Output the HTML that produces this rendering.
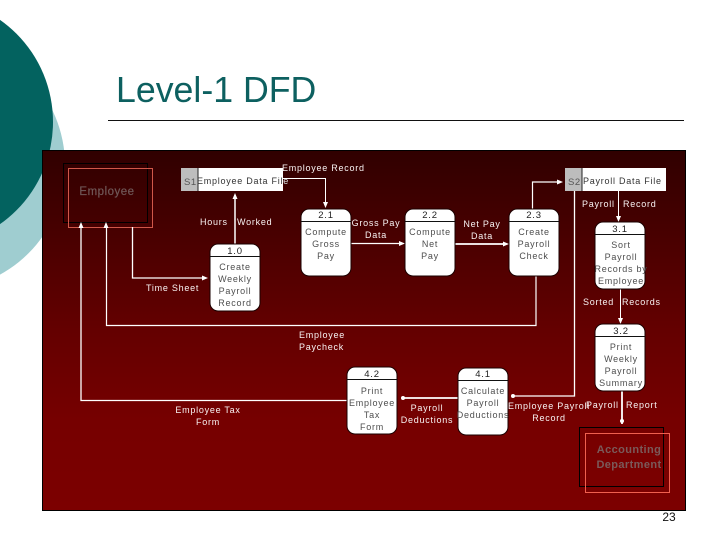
<!DOCTYPE html>
<html>
<head>
<meta charset="utf-8">
<style>
html,body{margin:0;padding:0;background:#fff}
svg{display:block}
text{font-family:"Liberation Sans",sans-serif}
.l{font-size:9px;letter-spacing:.75px;fill:#f8f2f2}
.n{font-size:9px;letter-spacing:.75px;fill:#4e4e4e;text-anchor:middle}
.h{font-size:9.5px;letter-spacing:.8px;fill:#222;text-anchor:middle}
.c{text-anchor:middle}
</style>
</head>
<body>
<svg width="720" height="540" viewBox="0 0 720 540" xmlns="http://www.w3.org/2000/svg">
<defs>
<linearGradient id="g" x1="0" y1="0" x2="0" y2="1">
<stop offset="0" stop-color="#300000"/>
<stop offset=".5" stop-color="#640000"/>
<stop offset=".75" stop-color="#760000"/>
<stop offset="1" stop-color="#7c0000"/>
</linearGradient>
<clipPath id="over"><rect x="283" y="170" width="10" height="20"/></clipPath>
</defs>
<rect width="720" height="540" fill="#fff"/>
<circle cx="-60" cy="165" r="125" fill="#9fcdd0"/>
<circle cx="-72" cy="122" r="125" fill="#03625f"/>
<text x="116" y="102" font-size="35.700" fill="#0d6060">Level-1 DFD</text>
<rect x="108" y="120" width="576" height="1" fill="#111"/>
<rect x="42.500" y="150.500" width="643" height="360" fill="url(#g)" stroke="#000" stroke-width="1"/>

<!-- externals -->
<rect x="63.500" y="163.500" width="84" height="59" fill="none" stroke="#000"/>
<rect x="68.500" y="168.500" width="84" height="59" fill="none" stroke="#d0584a"/>
<text x="107" y="195" class="c" font-size="11.500" letter-spacing=".5" fill="#705858" stroke="#705858" stroke-width=".2">Employee</text>
<rect x="579.500" y="427.500" width="84" height="59" fill="none" stroke="#000"/>
<rect x="585.500" y="433.500" width="84" height="59" fill="none" stroke="#f0604f"/>
<text x="629" y="453" class="c" font-size="11" font-weight="bold" letter-spacing=".4" fill="#7a5a5a">Accounting</text>
<text x="629" y="468" class="c" font-size="11" font-weight="bold" letter-spacing=".4" fill="#7a5a5a">Department</text>

<!-- data stores -->
<rect x="181" y="168" width="17" height="23" fill="#bdbdbd"/>
<rect x="198" y="168" width="85" height="23" fill="#fff"/>
<line x1="198" y1="168" x2="198" y2="191" stroke="#222"/>
<rect x="565" y="168" width="17" height="23" fill="#bdbdbd"/>
<rect x="582" y="168" width="84" height="23" fill="#fff"/>
<line x1="582" y1="168" x2="582" y2="191" stroke="#222"/>

<!-- connectors -->
<g fill="none" stroke="#fff">
<path d="M81 225V400.500H347" stroke-width="1.300"/>
<path d="M106.500 225V325.500H536V276" stroke-width="1.200"/>
<path d="M132.500 227V278H205" stroke-width="1.300"/>
<path d="M235 244V196" stroke-width="1.500"/>
<path d="M283 178.500H325.500V205" stroke-width="1"/>
<path d="M351 243.500H402" stroke-width="1.300"/>
<path d="M455 244H506" stroke-width="1.800"/>
<path d="M532.500 209V182H560" stroke-width="1.200"/>
<path d="M618.500 191V219" stroke-width="1"/>
<path d="M620.500 289V321" stroke-width="1"/>
<path d="M574.500 191V396H512" stroke-width="1.300"/>
<path d="M458 398H402" stroke-width="1.800"/>
<path d="M622 391V424" stroke-width="1.800"/>
</g>
<g fill="#fff">
<polygon points="81,222 78.500,228 83.500,228"/>
<polygon points="106,222 103.500,228 108.500,228"/>
<polygon points="208,278 202,275.500 202,280.500"/>
<polygon points="235,193 232.500,199 237.500,199"/>
<polygon points="325.500,208 323,202 328,202"/>
<polygon points="405,243.500 399,241 399,246"/>
<polygon points="509,244 503,241.500 503,246.500"/>
<polygon points="563,182 557,179.500 557,184.500"/>
<polygon points="618.500,222 616,216 621,216"/>
<polygon points="620.500,324 618,318 623,318"/>
<circle cx="513" cy="396" r="2"/>
<circle cx="403" cy="398" r="2"/>
<circle cx="622" cy="421" r="2"/>
</g>

<!-- process boxes -->
<g fill="#fff" stroke="#1a0000">
<rect x="210" y="244" width="50" height="67" rx="8"/>
<rect x="301" y="209" width="50" height="67" rx="8"/>
<rect x="405" y="209" width="50" height="67" rx="8"/>
<rect x="509" y="209" width="50" height="67" rx="8"/>
<rect x="595" y="222" width="50" height="67" rx="8"/>
<rect x="595" y="324" width="50" height="67" rx="8"/>
<rect x="347" y="367" width="50" height="67" rx="8"/>
<rect x="458" y="368" width="50" height="67" rx="8"/>
</g>
<g stroke="#111" stroke-width="1">
<line x1="210" x2="260" y1="256.500" y2="256.500"/>
<line x1="301" x2="351" y1="221.500" y2="221.500"/>
<line x1="405" x2="455" y1="221.500" y2="221.500"/>
<line x1="509" x2="559" y1="221.500" y2="221.500"/>
<line x1="595" x2="645" y1="234.500" y2="234.500"/>
<line x1="595" x2="645" y1="336.500" y2="336.500"/>
<line x1="347" x2="397" y1="379.500" y2="379.500"/>
<line x1="458" x2="508" y1="380.500" y2="380.500"/>
</g>

<!-- store labels -->
<text x="184" y="185" font-size="9.500" letter-spacing=".6" fill="#555">S1</text>
<text x="197" y="184" font-size="9" letter-spacing=".75" fill="#333">Employee Data File</text>
<text x="197" y="184" font-size="9" letter-spacing=".75" fill="#ddd" clip-path="url(#over)">Employee Data File</text>
<text x="568" y="185" font-size="9.500" letter-spacing=".6" fill="#555">S2</text>
<text x="583" y="184" font-size="9" letter-spacing=".75" fill="#333">Payroll Data File</text>

<!-- process text -->
<text x="235" y="254" class="h">1.0</text>
<text x="235" y="270" class="n">Create</text>
<text x="235" y="282" class="n">Weekly</text>
<text x="235" y="294" class="n">Payroll</text>
<text x="235" y="306" class="n">Record</text>

<text x="326" y="218" class="h">2.1</text>
<text x="326" y="235" class="n">Compute</text>
<text x="326" y="247" class="n">Gross</text>
<text x="326" y="259" class="n">Pay</text>

<text x="430" y="218" class="h">2.2</text>
<text x="430" y="235" class="n">Compute</text>
<text x="430" y="247" class="n">Net</text>
<text x="430" y="259" class="n">Pay</text>

<text x="534" y="218" class="h">2.3</text>
<text x="534" y="235" class="n">Create</text>
<text x="534" y="247" class="n">Payroll</text>
<text x="534" y="259" class="n">Check</text>

<text x="620" y="232" class="h">3.1</text>
<text x="621" y="248" class="n">Sort</text>
<text x="621" y="260" class="n">Payroll</text>
<text x="621" y="272" class="n">Records by</text>
<text x="621" y="284" class="n">Employee</text>

<text x="621" y="334" class="h">3.2</text>
<text x="621" y="350" class="n">Print</text>
<text x="621" y="362" class="n">Weekly</text>
<text x="621" y="374" class="n">Payroll</text>
<text x="621" y="386" class="n">Summary</text>

<text x="372" y="377" class="h">4.2</text>
<text x="372" y="394" class="n">Print</text>
<text x="372" y="406" class="n">Employee</text>
<text x="372" y="418" class="n">Tax</text>
<text x="372" y="430" class="n">Form</text>

<text x="483" y="377" class="h">4.1</text>
<text x="483" y="394" class="n">Calculate</text>
<text x="483" y="406" class="n">Payroll</text>
<text x="483" y="418" class="n">Deductions</text>

<!-- flow labels -->
<text x="282" y="171" class="l">Employee Record</text>
<text x="200" y="225" class="l">Hours</text>
<text x="237" y="225" class="l">Worked</text>
<text x="146" y="291" class="l">Time Sheet</text>
<text x="376" y="226" class="l c">Gross Pay</text>
<text x="376" y="238" class="l c">Data</text>
<text x="482" y="227" class="l c">Net Pay</text>
<text x="482" y="239" class="l c">Data</text>
<text x="582" y="207" class="l">Payroll</text>
<text x="623" y="207" class="l">Record</text>
<text x="583" y="305" class="l">Sorted</text>
<text x="622" y="305" class="l">Records</text>
<text x="299" y="338" class="l">Employee</text>
<text x="299" y="350" class="l">Paycheck</text>
<text x="208" y="413" class="l c">Employee Tax</text>
<text x="208" y="425" class="l c">Form</text>
<text x="427" y="411" class="l c">Payroll</text>
<text x="427" y="423" class="l c">Deductions</text>
<text x="508" y="409" class="l">Employee Payroll</text>
<text x="549" y="421" class="l c">Record</text>
<text x="586" y="408" class="l">Payroll</text>
<text x="626" y="408" class="l">Report</text>

<text x="669" y="521" class="c" font-size="12" fill="#111">23</text>
</svg>
</body>
</html>
